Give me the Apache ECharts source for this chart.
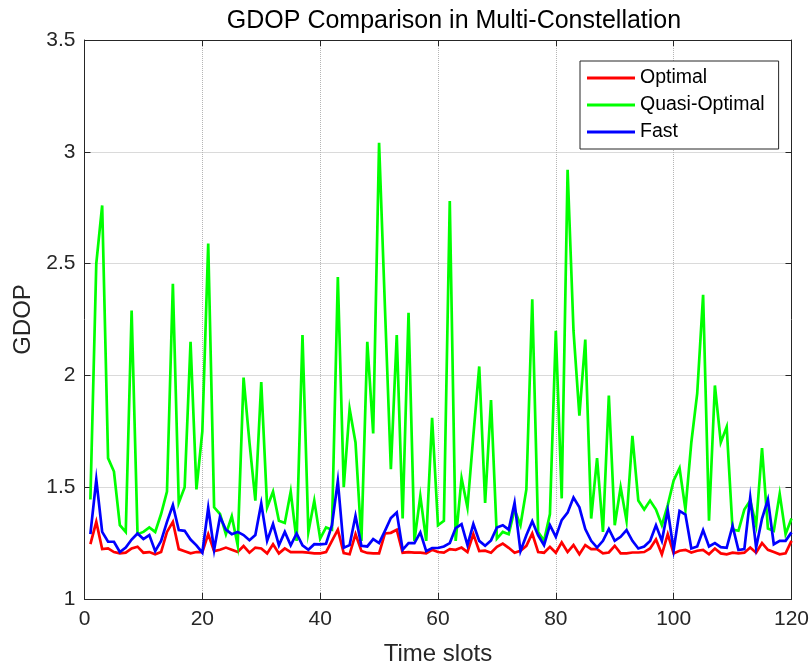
<!DOCTYPE html>
<html>
<head>
<meta charset="utf-8">
<script src="https://cdn.jsdelivr.net/npm/echarts@6/dist/echarts.min.js"></script>
<style>
  html, body { margin: 0; padding: 0; background: #ffffff; }
  #chart { width: 812px; height: 671px; }
</style>
</head>
<body>
<div id="chart"></div>
<script>
// Time slot indices 1..120
const timeSlots = Array.from({ length: 120 }, (_, i) => i + 1);

const xTicks = [0, 20, 40, 60, 80, 100, 120];
const yTicks = [1, 1.5, 2, 2.5, 3, 3.5];

// GDOP of the optimal satellite selection
const optimal = [
  1.245, 1.345, 1.223, 1.226, 1.21, 1.204, 1.207, 1.226, 1.234, 1.207,
  1.21, 1.20, 1.21, 1.30, 1.345, 1.223, 1.214, 1.204, 1.21, 1.21,
  1.29, 1.214, 1.22, 1.23, 1.22, 1.21, 1.237, 1.207, 1.23, 1.226,
  1.204, 1.245, 1.204, 1.226, 1.21, 1.21, 1.21, 1.207, 1.204, 1.204,
  1.21, 1.26, 1.31, 1.205, 1.20, 1.29, 1.215, 1.206, 1.204, 1.204,
  1.293, 1.296, 1.31, 1.207, 1.21, 1.207, 1.207, 1.204, 1.22, 1.21,
  1.207, 1.223, 1.22, 1.23, 1.21, 1.29, 1.214, 1.216, 1.207, 1.233,
  1.248, 1.229, 1.207, 1.216, 1.238, 1.293, 1.21, 1.207, 1.233, 1.207,
  1.253, 1.21, 1.241, 1.20, 1.241, 1.223, 1.223, 1.204, 1.208, 1.238,
  1.204, 1.204, 1.208, 1.208, 1.21, 1.226, 1.266, 1.20, 1.29, 1.204,
  1.216, 1.22, 1.208, 1.216, 1.22, 1.20, 1.226, 1.204, 1.20, 1.207,
  1.204, 1.207, 1.23, 1.207, 1.25, 1.22, 1.21, 1.20, 1.204, 1.26
];

// GDOP of the quasi-optimal selection
const quasiOptimal = [
  1.445, 2.50, 2.76, 1.63, 1.57, 1.33, 1.30, 2.29, 1.29, 1.30,
  1.32, 1.30, 1.38, 1.48, 2.41, 1.43, 1.50, 2.15, 1.49, 1.75,
  2.59, 1.41, 1.38, 1.29, 1.37, 1.24, 1.99, 1.70, 1.44, 1.97,
  1.41, 1.48, 1.35, 1.34, 1.48, 1.26, 2.18, 1.30, 1.44, 1.27,
  1.32, 1.31, 2.44, 1.50, 1.85, 1.70, 1.26, 2.15, 1.74, 3.04,
  2.30, 1.58, 2.18, 1.36, 2.28, 1.26, 1.46, 1.26, 1.81, 1.33,
  1.35, 2.78, 1.26, 1.54, 1.41, 1.73, 2.04, 1.43, 1.89, 1.27,
  1.30, 1.29, 1.40, 1.33, 1.49, 2.34, 1.30, 1.26, 1.38, 2.20,
  1.45, 2.92, 2.20, 1.82, 2.16, 1.36, 1.63, 1.30, 1.91, 1.33,
  1.50, 1.35, 1.73, 1.44, 1.40, 1.44, 1.40, 1.33, 1.42, 1.53,
  1.585, 1.40, 1.70, 1.92, 2.36, 1.35, 1.955, 1.70, 1.77, 1.31,
  1.305, 1.40, 1.44, 1.33, 1.675, 1.315, 1.305, 1.47, 1.29, 1.36
];

// GDOP of the fast selection
const fast = [
  1.29, 1.534, 1.30, 1.256, 1.256, 1.21, 1.23, 1.266, 1.293, 1.268,
  1.286, 1.214, 1.26, 1.345, 1.42, 1.308, 1.305, 1.266, 1.24, 1.207,
  1.408, 1.22, 1.368, 1.31, 1.29, 1.30, 1.286, 1.263, 1.286, 1.427,
  1.26, 1.335, 1.24, 1.30, 1.24, 1.293, 1.24, 1.22, 1.245, 1.244,
  1.247, 1.33, 1.528, 1.229, 1.241, 1.372, 1.238, 1.235, 1.268, 1.25,
  1.305, 1.362, 1.387, 1.22, 1.25, 1.25, 1.298, 1.214, 1.228, 1.228,
  1.235, 1.25, 1.317, 1.335, 1.241, 1.335, 1.26, 1.238, 1.262, 1.32,
  1.33, 1.31, 1.43, 1.214, 1.285, 1.348, 1.285, 1.241, 1.33, 1.278,
  1.353, 1.386, 1.454, 1.41, 1.313, 1.26, 1.23, 1.26, 1.313, 1.26,
  1.278, 1.308, 1.26, 1.226, 1.235, 1.26, 1.33, 1.26, 1.397, 1.219,
  1.394, 1.378, 1.226, 1.235, 1.308, 1.235, 1.25, 1.232, 1.229, 1.327,
  1.219, 1.223, 1.454, 1.23, 1.36, 1.445, 1.245, 1.26, 1.26, 1.298
];

const seriesNames = ['Optimal', 'Quasi-Optimal', 'Fast'];
const seriesColors = ['#ff0000', '#00ff00', '#0000ff'];
const seriesValues = [optimal, quasiOptimal, fast];

const FONT = 'Liberation Sans, Arial, sans-serif';
const INK = '#262626';

const pairs = vals => timeSlots.map((t, i) => [t, vals[i]]);

const xRange = { min: xTicks[0], max: xTicks[xTicks.length - 1], interval: xTicks[1] - xTicks[0] };
const yRange = { min: yTicks[0], max: yTicks[yTicks.length - 1], interval: yTicks[1] - yTicks[0] };

const chart = echarts.init(document.getElementById('chart'), null, { renderer: 'canvas' });

chart.setOption({
  backgroundColor: '#ffffff',
  animation: false,
  title: {
    text: 'GDOP Comparison in Multi-Constellation',
    left: 449,
    top: 4,
    textAlign: 'center',
    textStyle: { fontFamily: FONT, fontSize: 25, fontWeight: 'normal', color: '#000000' }
  },
  grid: { left: 84.5, right: 17, top: 40, bottom: 71, containLabel: false },
  legend: {
    data: seriesNames,
    orient: 'vertical',
    left: 580,
    top: 61,
    width: 200,
    padding: [7, 14, 7, 7],
    itemGap: 7,
    itemWidth: 48,
    itemHeight: 3,
    icon: 'rect',
    backgroundColor: '#ffffff',
    borderColor: INK,
    borderWidth: 1,
    borderRadius: 0,
    textStyle: { fontFamily: FONT, fontSize: 19.5, color: '#000000', lineHeight: 20, padding: [0, 0, 0, 0] }
  },
  xAxis: [
    {
      type: 'value', ...xRange, position: 'bottom',
      name: 'Time slots', nameLocation: 'middle', nameGap: 43,
      nameTextStyle: { fontFamily: FONT, fontSize: 24, color: INK },
      axisLine: { show: true, onZero: false, lineStyle: { color: INK, width: 1 } },
      axisTick: { show: true, inside: true, length: 6, lineStyle: { color: INK } },
      axisLabel: { fontFamily: FONT, fontSize: 21, color: INK, margin: 10 },
      splitLine: { show: true, lineStyle: { color: '#b5b5b5', type: [1, 1], width: 1 } }
    },
    {
      type: 'value', ...xRange, position: 'top',
      axisLine: { show: true, onZero: false, lineStyle: { color: INK, width: 1 } },
      axisTick: { show: true, inside: true, length: 6, lineStyle: { color: INK } },
      axisLabel: { show: false },
      splitLine: { show: false }
    }
  ],
  yAxis: [
    {
      type: 'value', ...yRange, position: 'left',
      name: 'GDOP', nameLocation: 'middle', nameGap: 46, nameRotate: 90,
      nameTextStyle: { fontFamily: FONT, fontSize: 24, color: INK },
      axisLine: { show: true, onZero: false, lineStyle: { color: INK, width: 1 } },
      axisTick: { show: true, inside: true, length: 6, lineStyle: { color: INK } },
      axisLabel: { fontFamily: FONT, fontSize: 21, color: INK, margin: 9 },
      splitLine: { show: true, lineStyle: { color: '#b5b5b5', type: [1, 1], width: 1 } }
    },
    {
      type: 'value', ...yRange, position: 'right',
      axisLine: { show: true, onZero: false, lineStyle: { color: INK, width: 1 } },
      axisTick: { show: true, inside: true, length: 6, lineStyle: { color: INK } },
      axisLabel: { show: false },
      splitLine: { show: false }
    }
  ],
  series: seriesNames.map((name, k) => ({
    name,
    type: 'line',
    xAxisIndex: 0,
    yAxisIndex: 0,
    data: pairs(seriesValues[k]),
    showSymbol: false,
    symbol: 'none',
    color: seriesColors[k],
    lineStyle: { color: seriesColors[k], width: 2.7, join: 'miter' },
    z: 2 + k
  }))
});
</script>
</body>
</html>
